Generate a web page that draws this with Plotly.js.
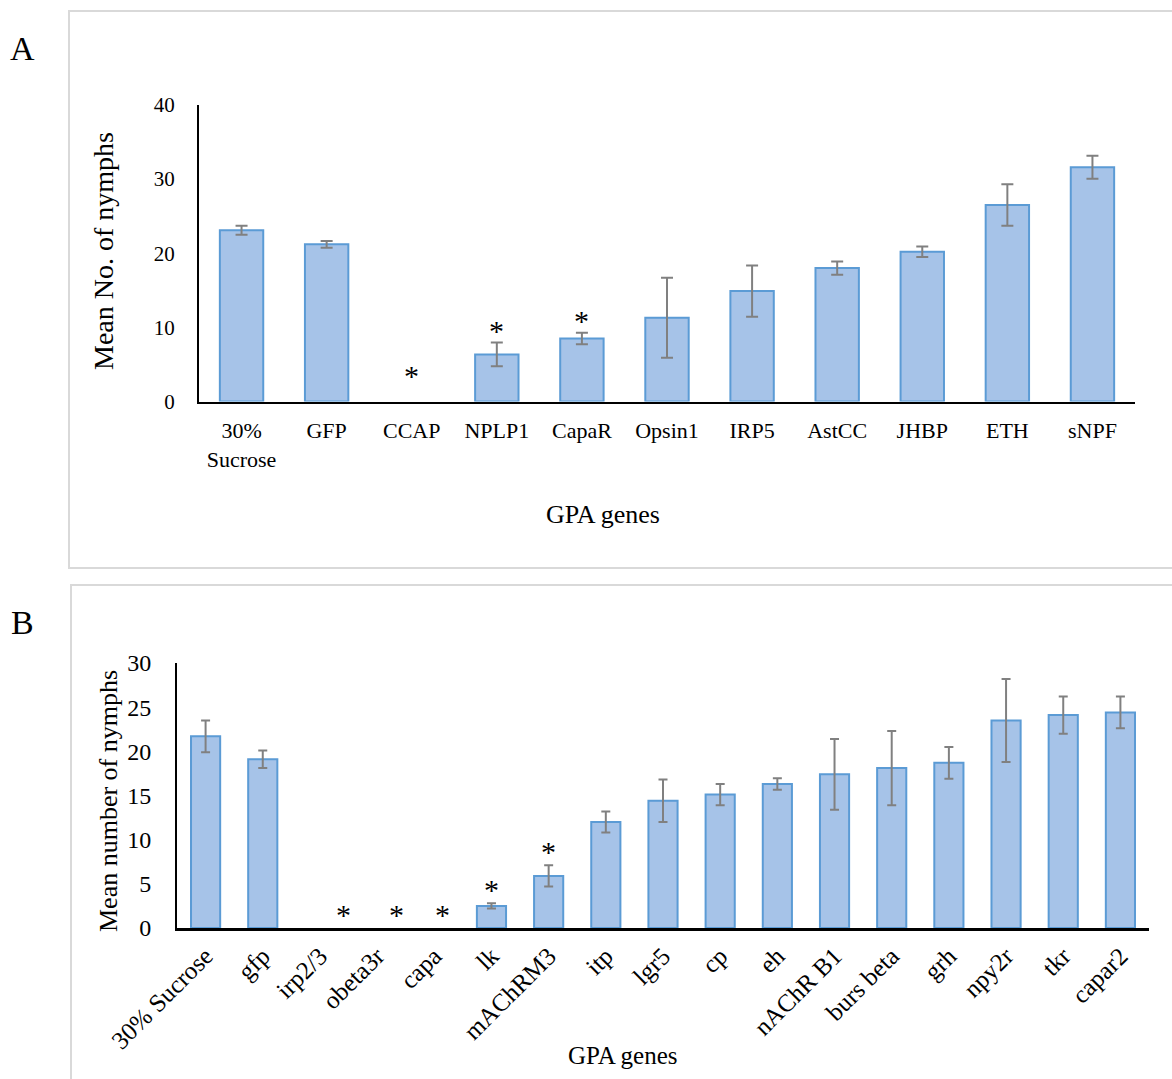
<!DOCTYPE html>
<html>
<head>
<meta charset="utf-8">
<script src="https://cdn.plot.ly/plotly-3.0.1.min.js"></script>
<style>
html,body{margin:0;padding:0;background:#fff;}
#chart{width:1172px;height:1079px;}
</style>
</head>
<body>
<div id="chart"></div>
<script>
// Panel A data
const catsA = ['30% Sucrose','GFP','CCAP','NPLP1','CapaR','Opsin1','IRP5','AstCC','JHBP','ETH','sNPF'];
const tickTextA = ['30%<br>Sucrose','GFP','CCAP','NPLP1','CapaR','Opsin1','IRP5','AstCC','JHBP','ETH','sNPF'];
const valsA = [23.1, 21.2, 0, 6.35, 8.5, 11.3, 14.9, 18.0, 20.2, 26.5, 31.6];
const errA  = [0.6, 0.45, 0, 1.6, 0.77, 5.4, 3.45, 0.9, 0.7, 2.8, 1.55];
const sigA  = ['CCAP','NPLP1','CapaR'];

// Panel B data
const catsB = ['30% Sucrose','gfp','irp2/3','obeta3r','capa','lk','mAChRM3','itp','lgr5','cp','eh','nAChR B1','burs beta','grh','npy2r','tkr','capar2'];
const valsB = [21.7, 19.1, 0, 0, 0, 2.5, 5.9, 12.0, 14.4, 15.1, 16.3, 17.4, 18.1, 18.7, 23.5, 24.1, 24.4];
const errB  = [1.8, 1.0, 0, 0, 0, 0.3, 1.2, 1.2, 2.4, 1.2, 0.65, 4.0, 4.2, 1.8, 4.7, 2.1, 1.8];
const sigB  = ['irp2/3','obeta3r','capa','lk','mAChRM3'];

const FONT = 'Liberation Serif, Times New Roman, serif';
const W = 1172, H = 1079;
const px = v => v / W;
const py = v => (H - v) / H;

function barMarker(vals){
  return {color:'#a6c3e8', line:{color:'#5b9bd5', width:vals.map(v => v > 0 ? 2 : 0)}};
}
// error bars only where a bar exists
function errTrace(cats, vals, errs, xa, ya, capW){
  const idx = vals.map((v,i) => i).filter(i => vals[i] > 0 && errs[i] > 0);
  return {
    type:'scatter', mode:'markers', xaxis:xa, yaxis:ya,
    x:idx.map(i => cats[i]), y:idx.map(i => vals[i]),
    marker:{size:1, opacity:0},
    error_y:{type:'data', array:idx.map(i => errs[i]), visible:true, color:'#808080', thickness:2, width:capW},
    hoverinfo:'skip', showlegend:false
  };
}

const traceA = {type:'bar', x:catsA, y:valsA, xaxis:'x', yaxis:'y', marker:barMarker(valsA), hoverinfo:'x+y', showlegend:false};
const traceB = {type:'bar', x:catsB, y:valsB, xaxis:'x2', yaxis:'y2', marker:barMarker(valsB), hoverinfo:'x+y', showlegend:false};
const errTA = errTrace(catsA, valsA, errA, 'x', 'y', 6);
const errTB = errTrace(catsB, valsB, errB, 'x2', 'y2', 4.5);

const annotations = [];
// significance asterisks panel A
sigA.forEach(c => {
  const i = catsA.indexOf(c);
  const top = valsA[i] + errA[i];
  annotations.push({xref:'x', yref:'y', x:c, y:top, text:'*', showarrow:false,
    yanchor:'middle', yshift: valsA[i] > 0 ? 12 : 26, font:{family:FONT, size:30, color:'#000'}});
});
// significance asterisks panel B
const bShift = {'irp2/3':24, 'obeta3r':19, 'capa':8};
sigB.forEach(c => {
  const i = catsB.indexOf(c);
  const top = valsB[i] + errB[i];
  annotations.push({xref:'x2', yref:'y2', x:c, y:top, text:'*', showarrow:false,
    yanchor:'middle', xshift: bShift[c] || 0, yshift: 14, font:{family:FONT, size:30, color:'#000'}});
});
// panel labels and axis titles
annotations.push({xref:'paper', yref:'paper', x:px(22), y:py(49), text:'A', showarrow:false, xanchor:'center', yanchor:'middle', font:{family:FONT, size:34, color:'#000'}});
annotations.push({xref:'paper', yref:'paper', x:px(22), y:py(622), text:'B', showarrow:false, xanchor:'center', yanchor:'middle', font:{family:FONT, size:34, color:'#000'}});
annotations.push({xref:'paper', yref:'paper', x:px(603), y:py(514), text:'GPA genes', showarrow:false, xanchor:'center', yanchor:'middle', font:{family:FONT, size:26, color:'#000'}});
annotations.push({xref:'paper', yref:'paper', x:px(623), y:py(1055), text:'GPA genes', showarrow:false, xanchor:'center', yanchor:'middle', font:{family:FONT, size:25, color:'#000'}});
annotations.push({xref:'paper', yref:'paper', x:px(104), y:py(251), text:'Mean No. of nymphs', textangle:-90, showarrow:false, xanchor:'center', yanchor:'middle', font:{family:FONT, size:28, color:'#000'}});
annotations.push({xref:'paper', yref:'paper', x:px(108), y:py(801), text:'Mean number of nymphs', textangle:-90, showarrow:false, xanchor:'center', yanchor:'middle', font:{family:FONT, size:26, color:'#000'}});

const shapes = [
  {type:'rect', xref:'paper', yref:'paper', x0:px(69), x1:px(1180), y0:py(568), y1:py(11), line:{color:'#d9d9d9', width:2}, fillcolor:'rgba(0,0,0,0)', layer:'below'},
  {type:'rect', xref:'paper', yref:'paper', x0:px(71), x1:px(1180), y0:py(1090), y1:py(585), line:{color:'#d9d9d9', width:2}, fillcolor:'rgba(0,0,0,0)', layer:'below'}
];

const layout = {
  width:W, height:H,
  margin:{l:0, r:0, t:0, b:0, pad:0},
  paper_bgcolor:'#fff', plot_bgcolor:'rgba(0,0,0,0)',
  font:{family:FONT, color:'#000'},
  bargap:0.49,
  showlegend:false,
  xaxis:{domain:[px(199), px(1135)], anchor:'y', type:'category',
    categoryorder:'array', categoryarray:catsA, tickvals:catsA, ticktext:tickTextA,
    range:[-0.5, catsA.length - 0.5], autorange:false,
    showline:true, linecolor:'#000', linewidth:2.5, ticks:'', ticklabelstandoff:8,
    showgrid:false, zeroline:false, tickfont:{family:FONT, size:22, color:'#000'}, fixedrange:true},
  yaxis:{domain:[py(401.5), py(105)], anchor:'x', range:[0,40], dtick:10, tick0:0,
    showline:true, linecolor:'#000', linewidth:2, ticks:'', ticklabelstandoff:18,
    showgrid:false, zeroline:false, tickfont:{family:FONT, size:21, color:'#000'}, fixedrange:true},
  xaxis2:{domain:[px(177), px(1149)], anchor:'y2', type:'category', tickangle:-45,
    categoryorder:'array', categoryarray:catsB,
    range:[-0.5, catsB.length - 0.5], autorange:false,
    showline:true, linecolor:'#000', linewidth:2.5, ticks:'', ticklabelstandoff:1,
    showgrid:false, zeroline:false, tickfont:{family:FONT, size:25, color:'#000'}, fixedrange:true},
  yaxis2:{domain:[py(928), py(663)], anchor:'x2', range:[0,30], dtick:5, tick0:0,
    showline:true, linecolor:'#000', linewidth:2, ticks:'', ticklabelstandoff:19,
    showgrid:false, zeroline:false, tickfont:{family:FONT, size:24, color:'#000'}, fixedrange:true},
  annotations:annotations,
  shapes:shapes
};

Plotly.newPlot('chart', [traceA, traceB, errTA, errTB], layout, {displayModeBar:false, staticPlot:true});
</script>
</body>
</html>
